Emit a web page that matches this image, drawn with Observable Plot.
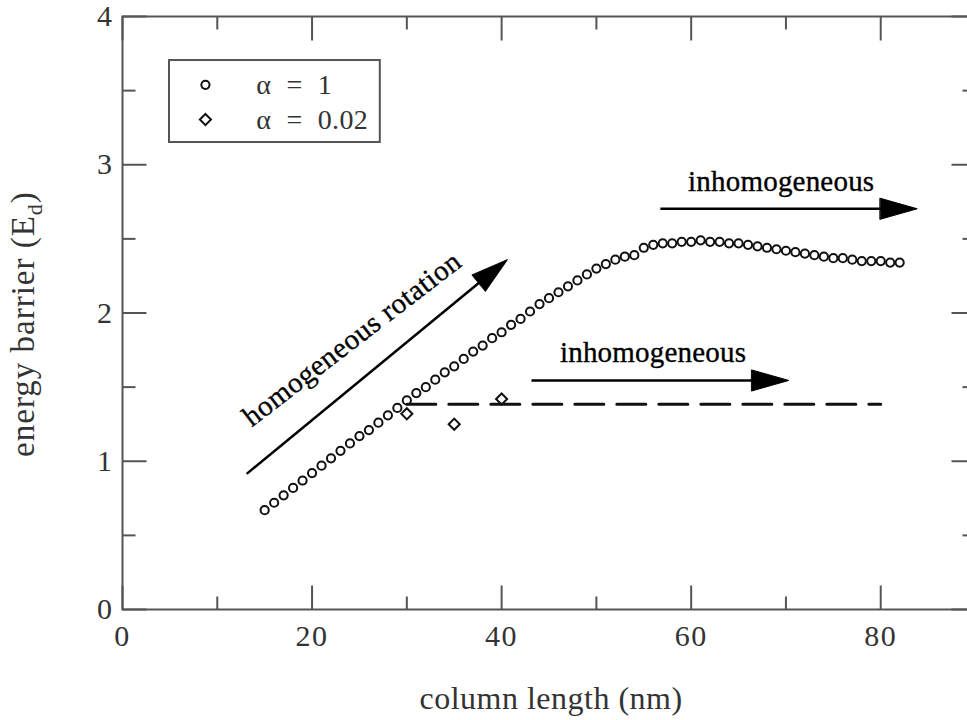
<!DOCTYPE html>
<html>
<head>
<meta charset="utf-8">
<script src="https://cdn.jsdelivr.net/npm/d3@7"></script>
<script src="https://cdn.jsdelivr.net/npm/@observablehq/plot@0.6"></script>
<style>
html, body { margin: 0; padding: 0; background: #fff; overflow: hidden; }
#chart { width: 967px; height: 720px; overflow: hidden; }
</style>
</head>
<body>
<div id="chart"></div>
<script>
// ---------- data ----------
const lengthA1 = [15,16,17,18,19,20,21,22,23,24,25,26,27,28,29,30,31,32,33,34,35,36,37,38,39,40,
  41,42,43,44,45,46,47,48,49,50,51,52,53,54,55,56,57,58,59,60,61,62,63,64,65,66,67,68,69,70,
  71,72,73,74,75,76,77,78,79,80,81,82];
const barrierA1 = [0.67,0.72,0.77,0.82,0.87,0.92,0.97,1.02,1.07,1.12,1.17,1.21,1.26,1.31,1.36,1.41,
  1.46,1.50,1.55,1.60,1.64,1.69,1.74,1.78,1.83,1.87,1.92,1.96,2.01,2.06,2.10,2.14,2.18,2.22,2.26,2.30,
  2.33,2.36,2.38,2.39,2.44,2.46,2.47,2.47,2.48,2.48,2.49,2.48,2.48,2.47,2.47,2.46,2.45,2.44,2.43,2.42,
  2.41,2.40,2.39,2.38,2.37,2.37,2.36,2.35,2.35,2.35,2.34,2.34];
const lengthA002 = [30, 35, 40];
const barrierA002 = [1.32, 1.25, 1.42];
const plateauLength = [30, 80];
const plateauBarrier = [1.385, 1.385];

const seriesLabels = ["α = 1", "α = 0.02"];
const xTicksMajor = [0, 20, 40, 60, 80];
const xTicksMinor = [10, 30, 50, 70];
const yTicksMajor = [0, 1, 2, 3, 4];
const yTicksMinor = [0.5, 1.5, 2.5, 3.5];
const xTitle = "column length (nm)";
const yTitle = "energy barrier (Ed)";
const annotationLabels = ["homogeneous rotation", "inhomogeneous", "inhomogeneous"];

// ---------- layout (positions / sizes / styles) ----------
const W = 967, H = 720;
const M = {left: 122, right: -8, top: 16, bottom: 111};
const xDomain = [0, 90], yDomain = [0, 4];
const kx = (W - M.left - M.right) / (xDomain[1] - xDomain[0]);
const ky = (H - M.top - M.bottom) / (yDomain[1] - yDomain[0]);
const HEAD_LEN = 37, HEAD_HALF = 10.5;

const arrowLayout = [
  {x1: 13.1, y1: 0.915, x2: 40.6, y2: 2.36},
  {x1: 56.75, y1: 2.703, x2: 83.85, y2: 2.703},
  {x1: 43.15, y1: 1.545, x2: 70.3, y2: 1.545}
];
const noteLayout = [
  {x: 24.8, y: 1.775, rotate: -37.5, ls: 0.4},
  {x: 69.5, y: 2.822, rotate: 0, ls: 0.2},
  {x: 55.98, y: 1.668, rotate: 0, ls: 0.2}
];
const legendLayout = {x1: 4.96, x2: 27.2, y1: 3.15, y2: 3.703, symbolX: 8.75, textX: 14.1, rowY: [3.539, 3.305]};

const arrows = arrowLayout.map(a => {
  const dxp = (a.x2 - a.x1) * kx, dyp = (a.y2 - a.y1) * ky;
  const len = Math.hypot(dxp, dyp);
  const cut = (HEAD_LEN - 4) / len;
  return {...a,
    rotate: Math.atan2(dxp, dyp) * 180 / Math.PI,
    sx2: a.x2 - (a.x2 - a.x1) * cut,
    sy2: a.y2 - (a.y2 - a.y1) * cut};
});
const notes = annotationLabels.map((t, i) => ({text: t, ...noteLayout[i]}));

const tickShape = {draw(ctx, l) { ctx.moveTo(0, 0); ctx.lineTo(0, -l); }};
const headShape = {draw(ctx, l) { ctx.moveTo(-HEAD_HALF, 0); ctx.lineTo(0, -l); ctx.lineTo(HEAD_HALF, 0); ctx.closePath(); }};
const axisColor = "#555";
const serif = "'Liberation Serif', 'Times New Roman', serif";

function ticks(values, fixed, orient, length) {
  const rot = {bottom: 0, top: 180, left: 90, right: -90}[orient];
  const horiz = orient === "bottom" || orient === "top";
  return Plot.vector(values, {
    x: horiz ? d => d : () => fixed,
    y: horiz ? () => fixed : d => d,
    length, rotate: rot, anchor: "start", shape: tickShape,
    stroke: axisColor, strokeWidth: 2, strokeLinecap: "butt"
  });
}

const chart = Plot.plot({
  width: W, height: H,
  marginLeft: M.left, marginRight: M.right, marginTop: M.top, marginBottom: M.bottom,
  x: {domain: xDomain},
  y: {domain: yDomain},
  style: {fontFamily: serif, color: "#333", background: "#fff", overflow: "hidden"},
  marks: [
    Plot.frame({stroke: axisColor, strokeWidth: 2}),
    ticks(xTicksMajor, 0, "bottom", 24),
    ticks(xTicksMinor, 0, "bottom", 13),
    ticks(xTicksMajor, 4, "top", 24),
    ticks(xTicksMinor, 4, "top", 13),
    ticks(yTicksMajor, 0, "left", 24),
    ticks(yTicksMinor, 0, "left", 13),
    ticks(yTicksMajor, 90, "right", 24),
    ticks(yTicksMinor, 90, "right", 13),
    Plot.axisX({anchor: "bottom", ticks: xTicksMajor, tickSize: 0, tickPadding: 15, fontSize: 30, label: null, tickFormat: d => String(d)}),
    Plot.axisY({anchor: "left", ticks: yTicksMajor, tickSize: 0, tickPadding: 9, fontSize: 30, label: null, tickFormat: d => String(d)}),
    Plot.text([xTitle], {frameAnchor: "bottom", dx: 2, dy: 99, lineAnchor: "bottom", fontSize: 32, fill: "#333"}),
    Plot.text([yTitle], {frameAnchor: "left", dx: -112, dy: 11, rotate: -90, textAnchor: "middle", lineAnchor: "top", fontSize: 33, fill: "#333"}),
    // series
    Plot.line(plateauLength.map((x, i) => ({x, y: plateauBarrier[i]})), {x: "x", y: "y", stroke: "#111", strokeWidth: 3, strokeDasharray: "29,13"}),
    Plot.dot(lengthA1.map((x, i) => ({x, y: barrierA1[i]})), {x: "x", y: "y", symbol: "circle", r: 4.1, stroke: "#111", strokeWidth: 2, fill: "none"}),
    Plot.dot(lengthA002.map((x, i) => ({x, y: barrierA002[i]})), {x: "x", y: "y", symbol: "diamond2", r: 5, stroke: "#111", strokeWidth: 2, fill: "none"}),
    // annotations: arrows
    Plot.link(arrows, {x1: "x1", y1: "y1", x2: "sx2", y2: "sy2", stroke: "black", strokeWidth: 2.5}),
    Plot.vector(arrows, {x: "x2", y: "y2", length: HEAD_LEN, rotate: "rotate", anchor: "end", shape: headShape, fill: "black", stroke: "black", strokeWidth: 1}),
    Plot.text(notes, {x: "x", y: "y", text: "text", rotate: "rotate", textAnchor: "middle", lineAnchor: "bottom", fontSize: 29, fill: "black", stroke: "black", strokeWidth: 0.35}),
    // legend
    Plot.rect([legendLayout], {x1: "x1", x2: "x2", y1: "y1", y2: "y2", fill: "none", stroke: axisColor, strokeWidth: 2}),
    Plot.dot([seriesLabels[0]], {x: () => legendLayout.symbolX, y: () => legendLayout.rowY[0], symbol: "circle", r: 4.1, stroke: "#111", strokeWidth: 2, fill: "none"}),
    Plot.dot([seriesLabels[1]], {x: () => legendLayout.symbolX, y: () => legendLayout.rowY[1], symbol: "diamond2", r: 5, stroke: "#111", strokeWidth: 2, fill: "none"}),
    Plot.text(seriesLabels, {x: () => legendLayout.textX, y: (d, i) => legendLayout.rowY[i], text: d => d, textAnchor: "start", lineAnchor: "middle", fontSize: 28, fill: "#333"})
  ]
});

document.getElementById("chart").appendChild(chart);

// ---------- text fine-tuning ----------
const svg = d3.select(chart);
svg.selectAll("text").attr("font-family", serif);
svg.selectAll('g[aria-label="x-axis tick label"] text').attr("letter-spacing", 1.5);
svg.selectAll('g[aria-label="y-axis tick label"] text').attr("letter-spacing", 1.5);
svg.selectAll("text").each(function() {
  const t = d3.select(this);
  const s = t.text();
  if (s === xTitle) t.attr("letter-spacing", 0.5);
  else if (s === annotationLabels[0]) t.attr("letter-spacing", noteLayout[0].ls);
  else if (s === annotationLabels[1]) t.attr("letter-spacing", noteLayout[1].ls);
  else if (s === seriesLabels[0] || s === seriesLabels[1]) t.attr("word-spacing", 8).attr("letter-spacing", 0.3);
  else if (s === yTitle) {
    const base = s.slice(0, s.length - 2); // "energy barrier (E"
    t.text(null).attr("letter-spacing", 1);
    t.append("tspan").text(base);
    t.append("tspan").attr("dy", 8).attr("font-size", 22).text("d");
    t.append("tspan").attr("dy", -8).text(")");
  }
});
</script>
</body>
</html>
